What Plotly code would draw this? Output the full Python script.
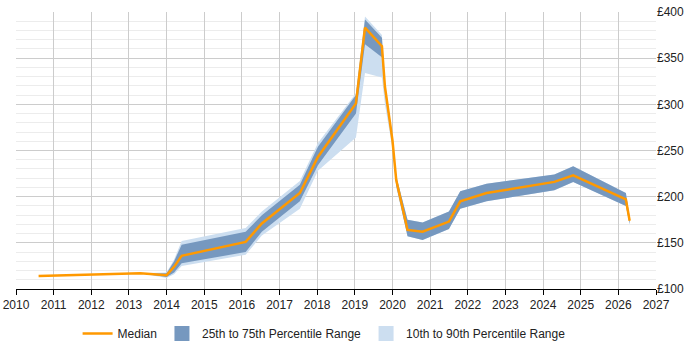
import plotly.graph_objects as go

years = [2010.6, 2013.3, 2014.0, 2014.2, 2014.4, 2016.1, 2016.53, 2017.54, 2018.02, 2019.03,
         2019.27, 2019.72, 2019.8, 2020.0, 2020.1, 2020.4, 2020.8, 2021.5, 2021.8, 2022.5,
         2024.3, 2024.8, 2026.2, 2026.3]
median = [114, 117, 115, 124, 136, 151, 171, 204, 243, 301, 383, 363, 319, 261, 218, 164,
          162, 173, 195, 204, 216, 223, 197, 174]
p25 = [114, 117, 113, 118, 128, 140, 162, 195, 234, 290, 365, 351, 314, 255, 212, 157,
       153, 165, 187, 195, 207, 216, 190, 170]
p75 = [114, 117, 117, 130, 148, 162, 180, 213, 254, 310, 392, 372, 322, 265, 222, 175,
       172, 184, 206, 214, 224, 233, 204, 178]
p10 = [114, 117, 112, 116, 125, 137, 158, 187, 228, 264, 334, 329, 300, 252, 210, 157,
       153, 165, 187, 195, 207, 216, 190, 170]
p90 = [114, 117, 118, 132, 152, 166, 184, 217, 258, 312, 395, 375, 324, 267, 222, 175,
       172, 184, 206, 214, 224, 233, 204, 178]

x_ticks = list(range(2010, 2028))
y_ticks = [100, 150, 200, 250, 300, 350, 400]
y_labels = ["£%d" % v for v in y_ticks]

light = "rgb(204,222,240)"
dark = "rgb(118,152,191)"
orange = "rgb(255,153,0)"

fig = go.Figure()
fig.add_trace(go.Scatter(x=years, y=p10, mode="lines", line=dict(width=0, color=light),
                         showlegend=False, hoverinfo="skip"))
fig.add_trace(go.Scatter(x=years, y=p90, mode="lines", line=dict(width=0, color=light),
                         fill="tonexty", fillcolor=light, showlegend=False))
fig.add_trace(go.Scatter(x=years, y=p25, mode="lines", line=dict(width=0, color=dark),
                         showlegend=False, hoverinfo="skip"))
fig.add_trace(go.Scatter(x=years, y=p75, mode="lines", line=dict(width=0, color=dark),
                         fill="tonexty", fillcolor=dark, showlegend=False))
fig.add_trace(go.Scatter(x=years, y=median, mode="lines", line=dict(width=2.5, color=orange),
                         name="Median"))
# legend swatches
fig.add_trace(go.Scatter(x=[None], y=[None], mode="markers",
                         marker=dict(symbol="square", size=15, color=dark),
                         name="25th to 75th Percentile Range"))
fig.add_trace(go.Scatter(x=[None], y=[None], mode="markers",
                         marker=dict(symbol="square", size=15, color=light),
                         name="10th to 90th Percentile Range"))

fig.update_layout(
    width=700, height=350,
    margin=dict(l=16, r=44, t=12, b=61, autoexpand=False),
    paper_bgcolor="white", plot_bgcolor="white",
    font=dict(family="Liberation Sans, Arial, sans-serif", size=12, color="#222"),
    showlegend=True,
    legend=dict(orientation="h", x=0.463, xanchor="center", xref="container",
                y=0.047, yanchor="middle", yref="container",
                traceorder="normal", font=dict(size=12), itemwidth=30),
    xaxis=dict(range=[2010, 2027], tickvals=x_ticks, ticktext=[str(v) for v in x_ticks],
               showgrid=True, gridcolor="#cccccc", gridwidth=1,
               ticks="outside", ticklen=5, tickcolor="#000", showline=True,
               linecolor="#000", linewidth=1, zeroline=False),
    yaxis=dict(range=[100, 400], side="right", tickvals=y_ticks, ticktext=y_labels,
               showgrid=True, gridcolor="#cccccc", gridwidth=1, zeroline=False,
               ticks="", showline=False,
               minor=dict(dtick=10, showgrid=True, gridcolor="#ececec", gridwidth=1)),
)

fig.write_html("out.html")
